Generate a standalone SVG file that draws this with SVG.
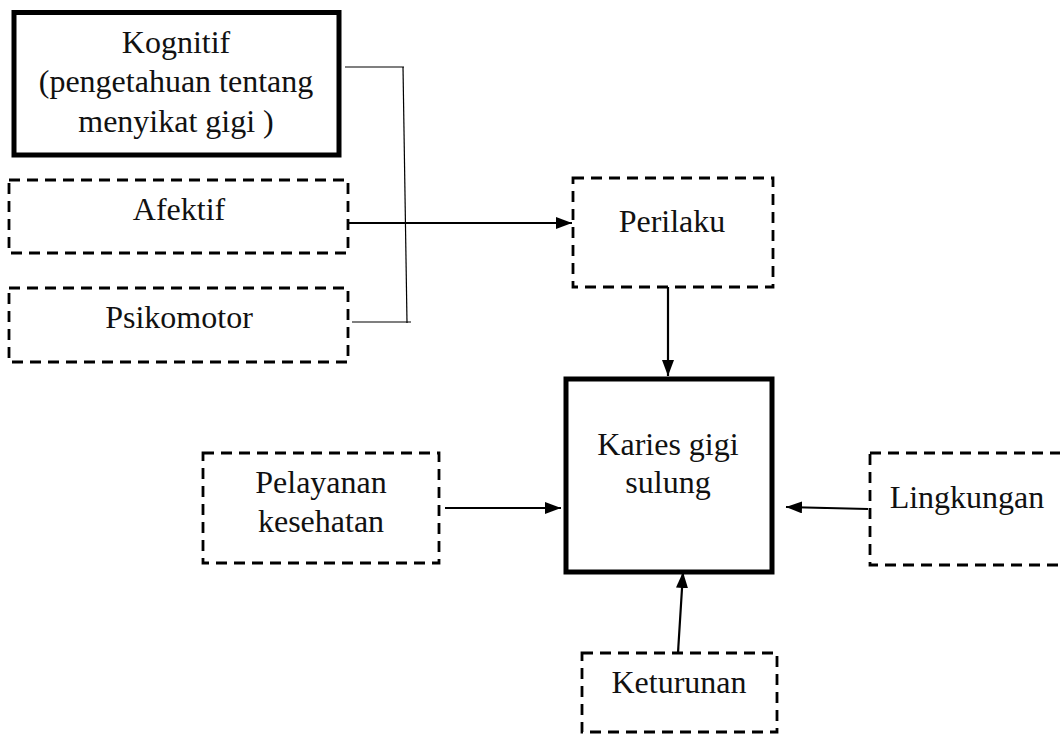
<svg xmlns="http://www.w3.org/2000/svg" width="1060" height="734" viewBox="0 0 1060 734">
<style>
text{font-family:"Liberation Serif","Times New Roman",serif;font-size:32px;fill:#111;text-anchor:middle}
.thick{fill:#fff;stroke:#000;stroke-width:5}
.dash{fill:#fff;stroke:#000;stroke-width:2.8;stroke-dasharray:11 7}
.thin{stroke:#000;stroke-width:1.2;fill:none}
.arr{stroke:#000;stroke-width:2.2;fill:none;marker-end:url(#ah)}
</style>
<defs>
<marker id="ah" viewBox="0 0 16 12" refX="16" refY="6" markerWidth="16" markerHeight="12" markerUnits="userSpaceOnUse" orient="auto">
<path d="M0,0 L16,6 L0,12 Z" fill="#000"/>
</marker>
</defs>
<rect width="1060" height="734" fill="#fff"/>
<g id="kognitif">
<rect class="thick" x="14" y="12.5" width="325" height="142.5"/>
<text x="176" y="53">Kognitif</text>
<text x="176" y="92">(pengetahuan tentang</text>
<text x="176" y="132">menyikat gigi )</text>
</g>
<g id="afektif">
<rect class="dash" x="9" y="180" width="339" height="73"/>
<text x="179" y="220">Afektif</text>
</g>
<g id="psikomotor">
<rect class="dash" x="9" y="288" width="339" height="74"/>
<text x="179" y="328">Psikomotor</text>
</g>
<g id="perilaku">
<rect class="dash" x="573" y="178" width="200" height="109"/>
<text x="672" y="232">Perilaku</text>
</g>
<g id="karies">
<rect class="thick" x="566" y="379" width="206" height="193"/>
<text x="668" y="455">Karies gigi</text>
<text x="668" y="493">sulung</text>
</g>
<g id="pelayanan">
<rect class="dash" x="203" y="453" width="236" height="110"/>
<text x="321" y="493">Pelayanan</text>
<text x="321" y="532">kesehatan</text>
</g>
<g id="lingkungan">
<rect class="dash" x="870" y="453" width="200" height="112"/>
<text x="967" y="508">Lingkungan</text>
</g>
<g id="keturunan">
<rect class="dash" x="582" y="653" width="195" height="79"/>
<text x="679" y="693">Keturunan</text>
</g>
<g id="connectors">
<path class="thin" d="M345,67 H404"/>
<path class="thin" d="M403,67 L407,323"/>
<path class="thin" d="M352,322 H411"/>
<path class="arr" d="M349,223 H572"/>
<path class="arr" d="M668,287 V376"/>
<path class="arr" d="M445,508 H561"/>
<path class="arr" d="M868,509 L786,507"/>
<path class="arr" d="M678,653 L683,572"/>
</g>
</svg>
